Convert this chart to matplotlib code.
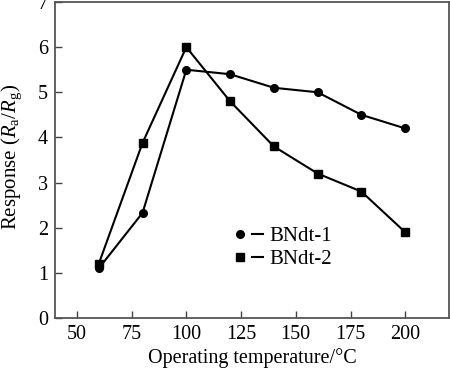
import matplotlib
matplotlib.use('Agg')
import matplotlib.pyplot as plt
from matplotlib.lines import Line2D
from matplotlib.legend_handler import HandlerTuple

temps = [60, 80, 100, 120, 140, 160, 180, 200]
bndt1 = [1.1, 2.33, 5.5, 5.4, 5.1, 5.0, 4.5, 4.2]
bndt2 = [1.2, 3.88, 6.0, 4.8, 3.8, 3.2, 2.8, 1.9]
names = ['BNdt-1', 'BNdt-2']
xticks = [50, 75, 100, 125, 150, 175, 200]
yticks = [0, 1, 2, 3, 4, 5, 6, 7]

plt.rcParams['font.family'] = 'Liberation Serif'
plt.rcParams['mathtext.fontset'] = 'custom'
plt.rcParams['mathtext.rm'] = 'Liberation Serif'
plt.rcParams['mathtext.it'] = 'Liberation Serif:italic'

fig = plt.figure(figsize=(4.5, 3.68), dpi=100)
ax = fig.add_axes([55/450, 1 - 318/368, 394/450, 316/368])

ax.plot(temps, bndt1, color='black', lw=1.5, marker='o', ms=5.5)
ax.plot(temps, bndt2, color='black', lw=1.5, marker='s', ms=5.5)

ax.set_xlim(40, 220)
ax.set_ylim(0, 7)
ax.set_xticks(xticks)
ax.set_yticks(yticks)
ax.tick_params(direction='in', length=5, width=1, labelsize=14.5, color='#444444',
               top=False, right=False, pad=5)
for s in ax.spines.values():
    s.set_color('#555555')
    s.set_linewidth(1.3)

ax.set_xlabel('Operating temperature/°C', fontsize=14.5, labelpad=3)
ax.set_ylabel(r'Response ($\mathit{R}_\mathrm{a}$/$\mathit{R}_\mathrm{g}$)', fontsize=15)
ax.yaxis.set_label_coords(-0.078, 0.51)

# legend: marker, gap, short line
handles = []
for m in ['o', 's']:
    mk = Line2D([], [], color='black', marker=m, ms=5.5, ls='none')
    ln = Line2D([], [], color='black', lw=1.5)
    handles.append((mk, ln))
ax.legend(handles, names, loc='upper left', bbox_to_anchor=(0.434, 0.315), frameon=False,
          fontsize=15, handlelength=1.4, handletextpad=0.3, labelspacing=0.15,
          borderaxespad=0, handler_map={tuple: HandlerTuple(ndivide=None, pad=0.3)})

fig.savefig('out.png', dpi=100)
